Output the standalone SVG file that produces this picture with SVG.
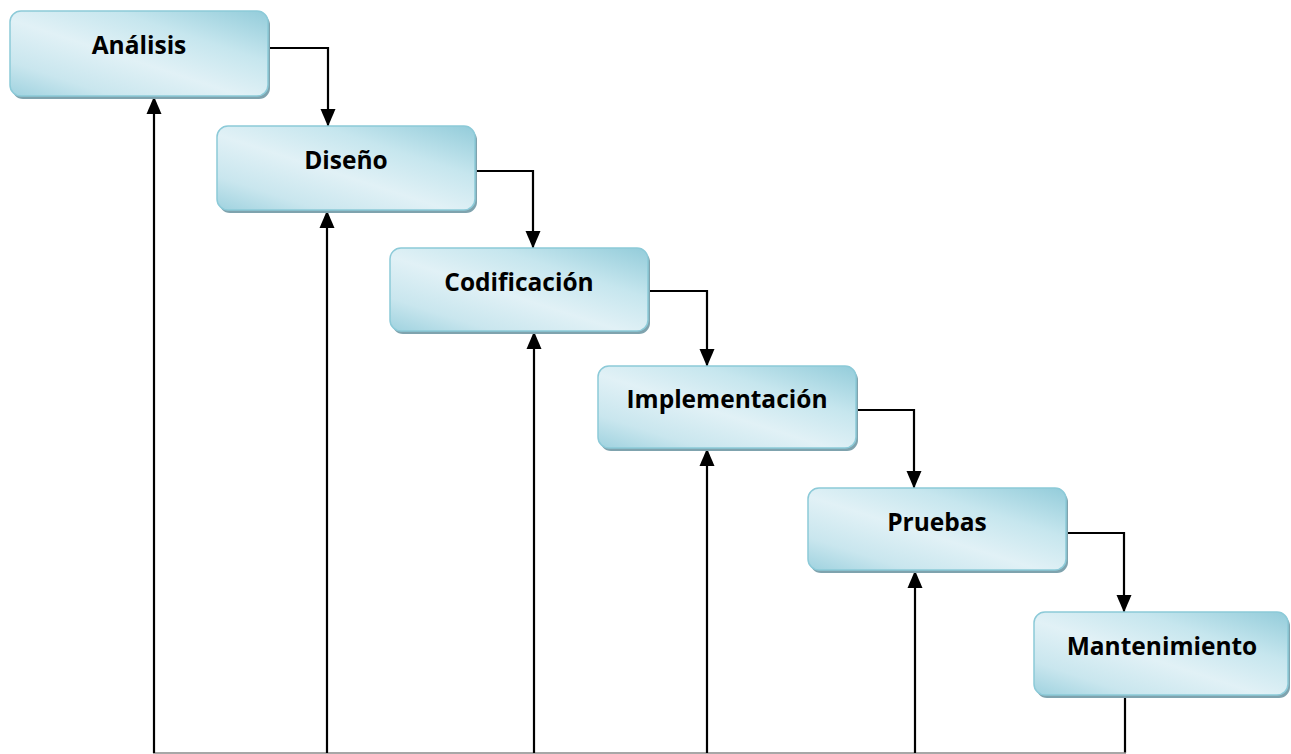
<svg xmlns="http://www.w3.org/2000/svg" width="1291" height="754" viewBox="0 0 1291 754">
  <defs>
    <linearGradient id="polish" x1="1" y1="0" x2="0" y2="1">
      <stop offset="0" stop-color="#93ccda"/>
      <stop offset="0.3" stop-color="#c6e6ee"/>
      <stop offset="0.55" stop-color="#e1f1f6"/>
      <stop offset="0.8" stop-color="#c9e6ee"/>
      <stop offset="1" stop-color="#9fd2df"/>
    </linearGradient>
    <marker id="arrow" markerUnits="userSpaceOnUse" markerWidth="18" markerHeight="18" viewBox="0 0 18 18" refX="17" refY="9" orient="auto">
      <path d="M0,1.5 L17.5,9 L0,16.5 Z" fill="#000"/>
    </marker>
  </defs>
  <style>
    .shadow { fill: #7fa3ae; }
    .box { fill: url(#polish); stroke: #8ccad8; stroke-width: 1.5; }
    .label { font-family: "Open Sans", "Liberation Sans", sans-serif; font-weight: 700; font-size: 24.5px; fill: #000; text-anchor: middle; }
    .link { fill: none; stroke: #000; stroke-width: 2.2; }
    .base { fill: none; stroke: #8a8a8a; stroke-width: 1.5; }
  </style>

  <rect width="1291" height="754" fill="#fff"/>

  <g id="connectors">
    <!-- forward flow: each phase to the next -->
    <path class="link" d="M268,48 H328 V126" marker-end="url(#arrow)"/>
    <path class="link" d="M475,171 H533 V248" marker-end="url(#arrow)"/>
    <path class="link" d="M648,291 H707 V366" marker-end="url(#arrow)"/>
    <path class="link" d="M857,410 H914 V488" marker-end="url(#arrow)"/>
    <path class="link" d="M1066,533 H1124 V612" marker-end="url(#arrow)"/>
    <!-- feedback: from maintenance back to every earlier phase -->
    <path class="link" d="M1125,696 V753"/>
    <path class="base" d="M153,753 H1126"/>
    <path class="link" d="M154,753 V97" marker-end="url(#arrow)"/>
    <path class="link" d="M327,753 V211" marker-end="url(#arrow)"/>
    <path class="link" d="M534,753 V332" marker-end="url(#arrow)"/>
    <path class="link" d="M707,753 V449" marker-end="url(#arrow)"/>
    <path class="link" d="M915,753 V571" marker-end="url(#arrow)"/>
  </g>

  <g id="analisis">
    <rect class="shadow" x="12" y="14" width="258" height="85" rx="11"/>
    <rect class="box" x="10" y="11" width="258" height="85" rx="11"/>
    <text class="label" x="139" y="54">Análisis</text>
  </g>
  <g id="diseno">
    <rect class="shadow" x="219" y="129" width="258" height="84" rx="11"/>
    <rect class="box" x="217" y="126" width="258" height="84" rx="11"/>
    <text class="label" x="346" y="169">Diseño</text>
  </g>
  <g id="codificacion">
    <rect class="shadow" x="392" y="251" width="258" height="83" rx="11"/>
    <rect class="box" x="390" y="248" width="258" height="83" rx="11"/>
    <text class="label" x="519" y="291">Codificación</text>
  </g>
  <g id="implementacion">
    <rect class="shadow" x="600" y="369" width="258" height="82" rx="11"/>
    <rect class="box" x="598" y="366" width="258" height="82" rx="11"/>
    <text class="label" x="727" y="408">Implementación</text>
  </g>
  <g id="pruebas">
    <rect class="shadow" x="810" y="491" width="258" height="82" rx="11"/>
    <rect class="box" x="808" y="488" width="258" height="82" rx="11"/>
    <text class="label" x="937" y="531">Pruebas</text>
  </g>
  <g id="mantenimiento">
    <rect class="shadow" x="1036" y="615" width="254" height="83" rx="11"/>
    <rect class="box" x="1034" y="612" width="254" height="83" rx="11"/>
    <text class="label" x="1162" y="655">Mantenimiento</text>
  </g>
</svg>
